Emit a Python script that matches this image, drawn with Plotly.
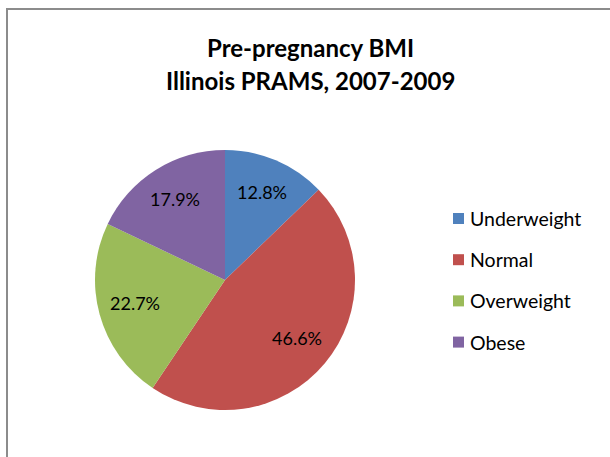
import math
import plotly.graph_objects as go

categories = ["Underweight", "Normal", "Overweight", "Obese"]
values = [12.8, 46.6, 22.7, 17.9]
colors = ["#4F81BD", "#C0504D", "#9BBB59", "#8064A2"]
title_lines = ["Pre-pregnancy BMI", "Illinois PRAMS, 2007-2009"]

W, H = 610, 457
cx, cy, R = 225, 280, 130    # pie centre / radius in pixels
FONT = "Lato, 'Open Sans', sans-serif"


def px(x):
    return x / W


def py(y):
    return 1 - y / H


fig = go.Figure(go.Pie(
    labels=categories, values=values, sort=False, direction="clockwise", rotation=0,
    marker=dict(colors=colors, line=dict(width=0)),
    textinfo="none",
    domain=dict(x=[px(cx - R), px(cx + R)], y=[py(cy + R), py(cy - R)]),
    showlegend=False, hoverinfo="label+percent",
))

shapes = [dict(type="rect", xref="paper", yref="paper", x0=px(7), y0=-0.2, x1=1.2, y1=py(9),
               line=dict(color="#8C8C8C", width=2), fillcolor="rgba(0,0,0,0)", layer="below")]
annotations = []
for line, yc in zip(title_lines, [48, 80]):
    annotations.append(dict(text=line, x=px(310), y=py(yc), xref="paper", yref="paper",
                            xanchor="center", yanchor="middle", showarrow=False,
                            font=dict(family=FONT, size=24, color="#000000", weight="bold")))

# data labels at slice mid-angles
total = sum(values)
cum = 0.0
for v in values:
    mid = (cum + v / 2) / total * 2 * math.pi
    cum += v
    lx = cx + 0.72 * R * math.sin(mid)
    ly = cy - 0.72 * R * math.cos(mid) - 2
    annotations.append(dict(text=f"{v:.1f}%", x=px(lx), y=py(ly), xref="paper", yref="paper",
                            xanchor="center", yanchor="middle", showarrow=False,
                            font=dict(family=FONT, size=18, color="#000000")))

# legend
leg_x, leg_y0, leg_dy, sq = 453, 218.5, 41.2, 11
for i, (lab, col) in enumerate(zip(categories, colors)):
    yy = leg_y0 + i * leg_dy
    shapes.append(dict(type="rect", xref="paper", yref="paper",
                       x0=px(leg_x), x1=px(leg_x + sq),
                       y0=py(yy + sq / 2), y1=py(yy - sq / 2),
                       fillcolor=col, line=dict(width=0)))
    annotations.append(dict(text=lab, x=px(leg_x + sq + 4), y=py(yy), xref="paper", yref="paper",
                            xanchor="left", yanchor="middle", showarrow=False,
                            font=dict(family=FONT, size=19.5, color="#000000")))

fig.update_layout(width=W, height=H, margin=dict(l=0, r=0, t=0, b=0),
                  paper_bgcolor="white", plot_bgcolor="white",
                  shapes=shapes, annotations=annotations, showlegend=False)
fig.write_html("out.html", config={"displayModeBar": False},
               post_script="document.body.style.margin='0';document.body.style.overflow='hidden';")
